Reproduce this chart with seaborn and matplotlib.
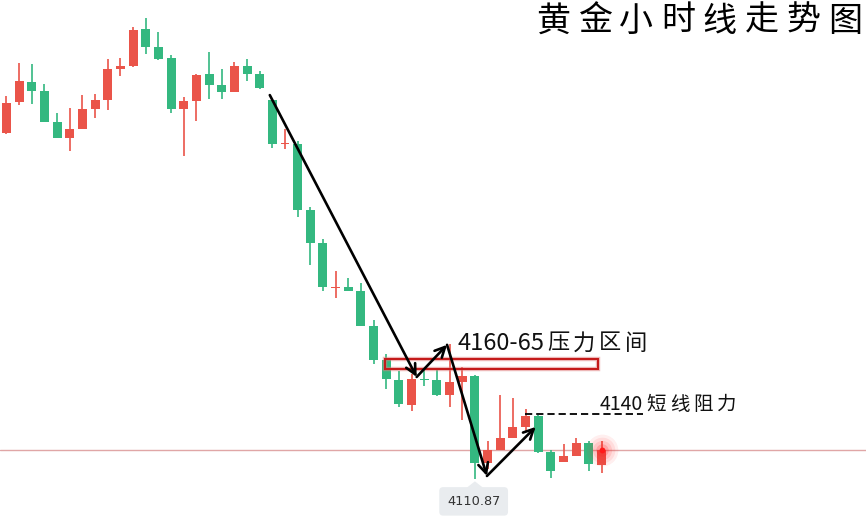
import numpy as np
import pandas as pd
import matplotlib.pyplot as plt
from matplotlib.patches import Rectangle, Polygon
import seaborn as sns

# hourly gold candles
opens = [4266.0, 4279.9, 4288.9, 4284.8, 4270.9, 4263.8, 4267.8, 4276.8, 4280.8, 4294.7,
         4296.0, 4312.6, 4304.6, 4299.6, 4276.8, 4280.4, 4292.5, 4287.5, 4284.4, 4296.0,
         4292.5, 4280.8, 4261.1, 4261.1, 4231.5, 4216.7, 4196.5, 4197.0, 4195.2, 4179.5,
         4164.2, 4155.3, 4144.0, 4155.7, 4155.3, 4148.5, 4154.3, 4157.0, 4118.0, 4123.9,
         4129.2, 4134.2, 4139.1, 4123.0, 4118.5, 4121.2, 4127.0, 4117.1]
highs = [4282.6, 4297.4, 4296.9, 4288.0, 4275.0, 4277.2, 4283.0, 4283.5, 4299.2, 4299.6,
         4313.5, 4317.6, 4311.3, 4301.0, 4282.2, 4292.5, 4302.3, 4294.7, 4297.8, 4299.2,
         4293.8, 4280.8, 4267.8, 4262.4, 4232.8, 4218.5, 4204.1, 4201.0, 4198.7, 4182.2,
         4166.9, 4159.3, 4158.0, 4160.2, 4160.2, 4171.4, 4161.1, 4157.5, 4127.9, 4148.5,
         4147.2, 4142.3, 4139.6, 4123.9, 4126.6, 4129.2, 4127.9, 4127.9]
lows = [4265.6, 4278.6, 4279.0, 4270.9, 4263.8, 4257.9, 4267.8, 4272.7, 4276.3, 4291.6,
        4295.6, 4301.4, 4298.7, 4275.0, 4255.7, 4271.4, 4281.3, 4281.3, 4284.4, 4289.3,
        4285.7, 4259.3, 4258.8, 4228.3, 4206.8, 4195.2, 4192.0, 4195.2, 4179.5, 4162.4,
        4151.2, 4143.1, 4141.3, 4152.6, 4148.1, 4143.1, 4137.3, 4110.87, 4115.4, 4123.9,
        4129.2, 4132.0, 4122.5, 4111.3, 4118.5, 4121.2, 4114.5, 4113.6]
closes = [4279.5, 4289.3, 4284.8, 4270.9, 4263.8, 4267.8, 4276.8, 4280.8, 4294.7, 4296.0,
          4312.2, 4304.6, 4299.2, 4276.8, 4280.4, 4292.0, 4287.5, 4284.4, 4296.0, 4292.5,
          4286.2, 4261.1, 4261.5, 4231.5, 4216.7, 4197.0, 4197.0, 4195.2, 4179.5, 4164.2,
          4155.7, 4144.5, 4155.7, 4155.3, 4148.5, 4154.3, 4157.0, 4118.0, 4123.9, 4129.2,
          4134.2, 4139.1, 4123.0, 4114.5, 4121.2, 4127.0, 4117.6, 4123.9]

# key levels / labels
zone_low, zone_high = 4160, 4165
resist_level = 4140
low_label = "4110.87"
title_text = "黄金小时线走势图"
zone_num, zone_word = "4160-65", "压力区间"
resist_num, resist_word = "4140", "短线阻力"

# arrow path (candle index, price)
arrow_pts = [(20.8, 4283.0), (32.4, 4156.6), (34.8, 4171.0), (37.95, 4112.2), (41.8, 4134.2)]

UP = "#ea5449"
DOWN = "#34b880"
W, H = 866, 521

df = pd.DataFrame({"open": opens, "high": highs, "low": lows, "close": closes})
df["idx"] = np.arange(len(df))
df["bottom"] = df[["open", "close"]].min(axis=1)
df["height"] = (df["close"] - df["open"]).abs().clip(lower=0.45)
df["up"] = df["close"] >= df["open"]

sns.set_theme(style="white")
plt.rcParams["font.family"] = ["Noto Sans CJK SC", "DejaVu Sans"]

fig = plt.figure(figsize=(8.66, 5.21), dpi=100)
ax = fig.add_axes([0, 0, 1, 1])


def px_text(px, py, s, **kw):
    # place text by pixel position of the reference picture
    ax.text(px / W, 1 - py / H, s, transform=ax.transAxes, **kw)


# last price line
ax.axhline(closes[-1], color="#e0a6a6", lw=1, zorder=0.5)

# wicks
ax.vlines(df["idx"], df["low"], df["high"],
          colors=np.where(df["up"], UP, DOWN), lw=1.2, zorder=1)

# bodies
for is_up, col in [(True, UP), (False, DOWN)]:
    sub = df[df["up"] == is_up]
    sns.barplot(data=sub, x="idx", y="height", bottom=sub["bottom"].values,
                native_scale=True, color=col, width=0.71, errorbar=None,
                saturation=1, linewidth=0, ax=ax, zorder=2)

# glow on the live candle
for s, a in [(520, 0.07), (340, 0.09), (190, 0.12), (80, 0.2)]:
    ax.scatter([df["idx"].iloc[-1]], [closes[-1]], s=s, color="#ff2020",
               alpha=a, lw=0, zorder=3)
ax.scatter([df["idx"].iloc[-1]], [closes[-1]], s=18, color="#ff1a1a", lw=0, zorder=4)

# resistance zone box
ax.add_patch(Rectangle((29.9, zone_low + 0.2), 46.72 - 29.9, zone_high - zone_low - 0.5,
                       fill=False, edgecolor="#e08080", lw=3.2, alpha=0.5, zorder=4))
ax.add_patch(Rectangle((29.9, zone_low + 0.2), 46.72 - 29.9, zone_high - zone_low - 0.5,
                       fill=False, edgecolor="#c41a1a", lw=1.5, zorder=5))

# dashed short-term resistance
ax.plot([40.95, 50.3], [resist_level, resist_level], color="black", lw=1.3,
        ls=(0, (4, 2.2)), zorder=5)

# arrows
for (x0, y0), (x1, y1) in zip(arrow_pts[:-1], arrow_pts[1:]):
    ax.annotate("", xy=(x1, y1), xytext=(x0, y0),
                arrowprops=dict(arrowstyle="->,head_length=0.6,head_width=0.3",
                                color="black", lw=1.9, shrinkA=0, shrinkB=0),
                zorder=6)

# zone label: digits then spaced-out characters
px_text(458, 343, zone_num, fontsize=17, color="#111111", va="center", ha="left")
for k, ch in enumerate(zone_word):
    px_text(558 + 26.0 * k, 343, ch, fontsize=16, color="#111111", va="center", ha="center")

# short-term resistance label
px_text(600, 404, resist_num, fontsize=14, color="#111111", va="center", ha="left")
for k, ch in enumerate(resist_word):
    px_text(656 + 23.7 * k, 404, ch, fontsize=14, color="#111111", va="center", ha="center")

# title, wide character spacing
for k, ch in enumerate(title_text):
    px_text(553 + 41.7 * k, 21, ch, fontsize=24.5, color="black",
            fontweight="medium", ha="center", va="center")

# low price tag
low_i = int(np.argmin(lows))
ax.add_patch(Polygon([(low_i - 0.65, 4106.9), (low_i, 4109.8), (low_i + 0.65, 4106.9)],
                     closed=True, color="#e9ecef", lw=0, zorder=6))
ax.text(low_i - 0.1, 4100.8, low_label, fontsize=9.3, color="#333333",
        family="DejaVu Sans", ha="center", va="center", zorder=7,
        bbox=dict(boxstyle="round,pad=0.6,rounding_size=0.3", fc="#e9ecef", ec="none"))

ax.set_xlim(-0.51, 67.89)
ax.set_ylim(4092.0, 4325.65)
ax.axis("off")

fig.savefig("out.png", dpi=100)
